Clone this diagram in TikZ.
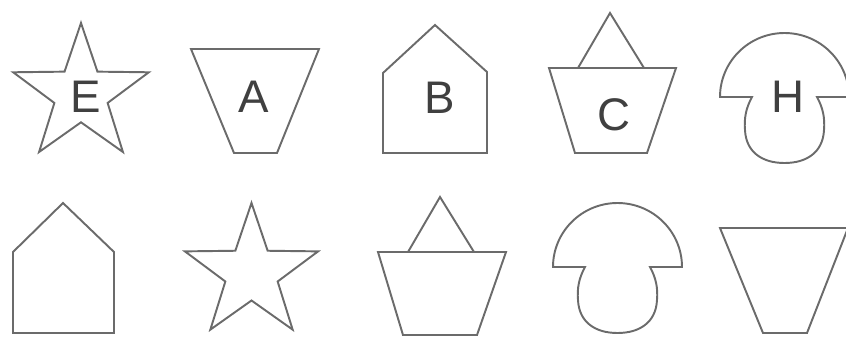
\documentclass[tikz,border=0pt]{standalone}
\usepackage{fontspec}
\setmainfont{Liberation Sans}
\usepackage{xcolor}
\definecolor{figLine}{gray}{0.42}
\definecolor{figText}{gray}{0.25}
\usepackage{tikz}

\begin{document}
\begin{tikzpicture}[x=0.02cm, y=0.02cm,
    outline/.style={draw=figLine, line width=1.1pt, line join=miter},
    letter/.style={text=figText, font=\fontsize{26}{30}\selectfont, inner sep=0pt}]
  \useasboundingbox (0,0) rectangle (846,336);
  \clip (0,0) rectangle (846,336);
  % top row
  % star E
  \draw[outline, shift={(81,241.7)}] plot[samples at={0,...,9}]
    ({90+36*\x}:{mod(\x,2)==0 ? 71.3 : 28}) -- cycle;
  \node[letter] (lblE) at (85.5,239) {E};
  % funnel A
  \draw[outline] (191,287) -- (319,287) -- (277,183) -- (234,183) -- cycle;
  \node[letter] (lblA) at (253.5,239) {A};
  % house B
  \draw[outline] (383,183) -- (383,263) -- (435,311) -- (487,264) -- (487,183) -- cycle;
  \node[letter] (lblB) at (439.5,238) {B};
  % pot C with its roof
  \draw[outline] (549,268) -- (676,268) -- (647,183) -- (575,183) -- cycle;
  \draw[outline] (578,268) -- (610,323) -- (644,268);
  \node[letter] (lblC) at (614,221.5) {C};
  % mushroom H
  \draw[outline, shift={(167,170)}] (585,69) -- (553,69)
    arc[start angle=180, end angle=0, x radius=64.5, y radius=64] -- (650,69)
    .. controls (656,58) and (658,48) .. (657,36)
    .. controls (656,14) and (640,3) .. (617.5,3)
    .. controls (595,3) and (579,14) .. (578,36)
    .. controls (577,48) and (579,58) .. (585,69) -- cycle;
  \node[letter] (lblH) at (788,239) {H};
  % bottom row, no letters
  \draw[outline] (13,3) -- (13,84) -- (63,133) -- (114,84) -- (114,3) -- cycle;
  \draw[outline, shift={(251.5,63)}] plot[samples at={0,...,9}]
    ({90+36*\x}:{mod(\x,2)==0 ? 70 : 27.5}) -- cycle;
  \draw[outline] (378,84) -- (506,84) -- (477,1) -- (403,1) -- cycle;
  \draw[outline] (408,84) -- (440,139) -- (474,84);
  \draw[outline] (585,69) -- (553,69)
    arc[start angle=180, end angle=0, x radius=64.5, y radius=64] -- (650,69)
    .. controls (656,58) and (658,48) .. (657,36)
    .. controls (656,14) and (640,3) .. (617.5,3)
    .. controls (595,3) and (579,14) .. (578,36)
    .. controls (577,48) and (579,58) .. (585,69) -- cycle;
  \draw[outline] (720,108) -- (848,108) -- (807,3) -- (763,3) -- cycle;
\end{tikzpicture}
\end{document}
